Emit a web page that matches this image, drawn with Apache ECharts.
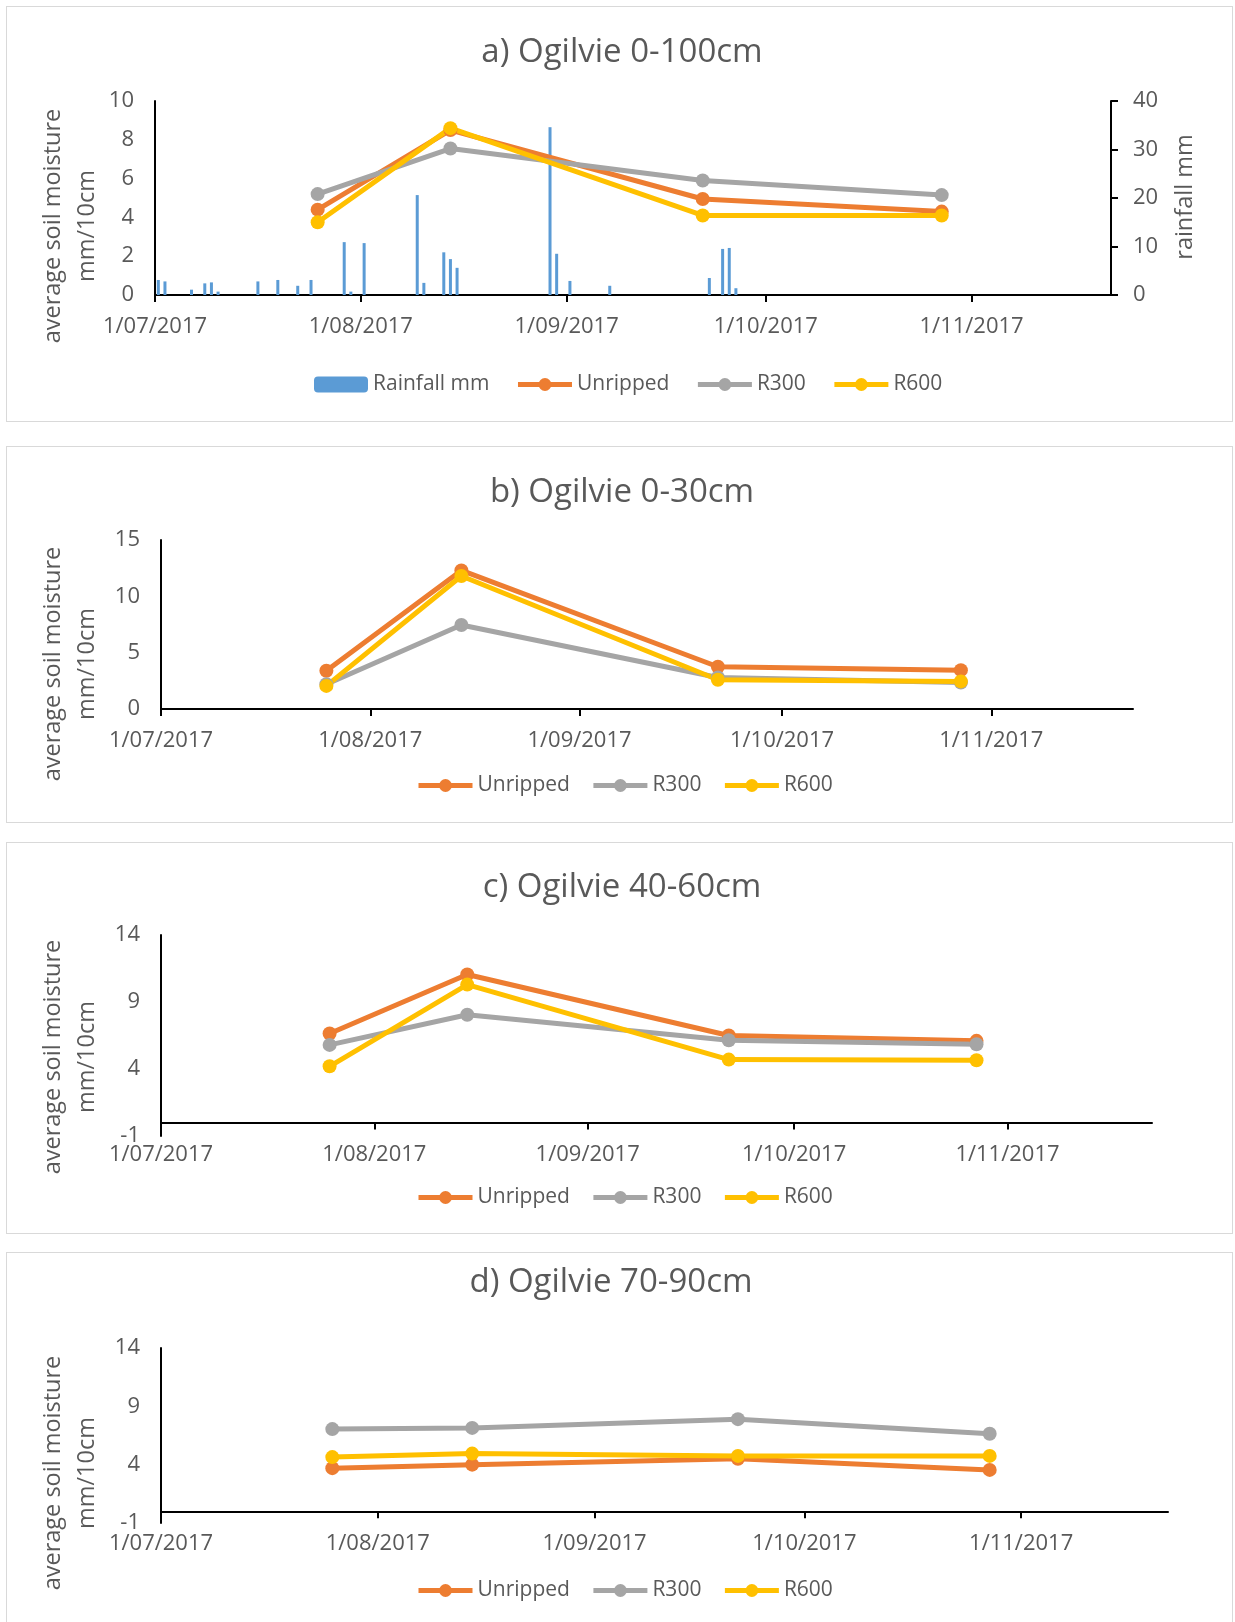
<!DOCTYPE html>
<html>
<head>
<meta charset="utf-8">
<title>Ogilvie soil moisture</title>
<script src="https://cdn.jsdelivr.net/npm/echarts@6/dist/echarts.min.js"></script>
<style>
  html, body { margin: 0; padding: 0; background: #fff; }
  body { width: 1235px; height: 1622px; position: relative; overflow: hidden; }
  .panel { position: absolute; left: 6px; width: 1227px; border: 1px solid #d9d9d9; box-sizing: border-box; }
</style>
</head>
<body>
<div id="chartA" class="panel" style="top:6px;height:416px"></div>
<div id="chartB" class="panel" style="top:446px;height:377px"></div>
<div id="chartC" class="panel" style="top:842px;height:392px"></div>
<div id="chartD" class="panel" style="top:1252px;height:380px"></div>

<script>
// sampling dates (same for every depth)
const sampleDates = ['2017-07-25', '2017-08-14', '2017-09-21', '2017-10-27'];
// x axis month ticks
const tickDates = ['2017-07-01', '2017-08-01', '2017-09-01', '2017-10-01', '2017-11-01'];
const axisStart = '2017-07-01';
const axisEnd = '2017-11-22';

// daily rainfall (mm)
const rainDates = [
  '2017-07-01', '2017-07-02', '2017-07-06', '2017-07-08', '2017-07-09', '2017-07-10',
  '2017-07-16', '2017-07-19', '2017-07-22', '2017-07-24', '2017-07-29', '2017-07-30',
  '2017-08-01', '2017-08-09', '2017-08-10', '2017-08-13', '2017-08-14', '2017-08-15',
  '2017-08-29', '2017-08-30', '2017-09-01', '2017-09-07', '2017-09-22', '2017-09-24',
  '2017-09-25', '2017-09-26'
];
const rainMm = [
  3.1, 2.8, 1.1, 2.4, 2.6, 0.7,
  2.8, 3.1, 1.9, 3.1, 10.9, 0.7,
  10.7, 20.6, 2.5, 8.8, 7.4, 5.6,
  34.6, 8.5, 2.9, 1.9, 3.5, 9.5,
  9.7, 1.4
];

// a) 0-100cm
const unrippedA = [4.4, 8.5, 4.95, 4.3];
const r300A = [5.2, 7.55, 5.9, 5.15];
const r600A = [3.75, 8.6, 4.1, 4.1];
// b) 0-30cm
const unrippedB = [3.4, 12.3, 3.75, 3.45];
const r300B = [2.2, 7.45, 2.8, 2.35];
const r600B = [2.05, 11.8, 2.6, 2.45];
// c) 40-60cm
const unrippedC = [6.65, 11.05, 6.5, 6.1];
const r300C = [5.8, 8.05, 6.15, 5.85];
const r600C = [4.2, 10.3, 4.7, 4.65];
// d) 70-90cm
const unrippedD = [3.7, 4.0, 4.5, 3.55];
const r300D = [7.05, 7.15, 7.9, 6.65];
const r600D = [4.65, 4.95, 4.75, 4.75];

const FONT = '"Open Sans", "Noto Sans", sans-serif';
const TEXT = '#595959';
const COLORS = { Unripped: '#ED7D31', R300: '#A5A5A5', R600: '#FFC000', rain: '#5B9BD5' };

function day(s) {
  const [y, m, d] = s.split('-').map(Number);
  return new Date(y, m - 1, d).getTime();
}
// Excel date axis puts each day in the middle of its slot
function slot(s) {
  return day(s) + 12 * 3600 * 1000;
}
function fmtDate(v) {
  const d = new Date(v);
  const mm = String(d.getMonth() + 1).padStart(2, '0');
  return d.getDate() + '/' + mm + '/' + d.getFullYear();
}

function lineSeries(name, values) {
  return {
    name: name,
    type: 'line',
    data: sampleDates.map((d, i) => [slot(d), values[i]]),
    symbol: 'circle',
    symbolSize: 14,
    lineStyle: { width: 5, color: COLORS[name] },
    itemStyle: { color: COLORS[name] },
    z: 3
  };
}

function buildOption(p) {
  const ticks = tickDates.map(day);
  // x axis sits on zero, labels are laid out from the grid bottom
  const zeroShift = p.yMin < 0 ? -p.yMin / (p.yMax - p.yMin) * p.grid.height : 0;
  const yAxes = [{
    type: 'value',
    min: p.yMin,
    max: p.yMax,
    interval: p.yInterval,
    axisLine: { show: true, lineStyle: { color: '#000', width: 2 } },
    axisTick: { show: false },
    splitLine: { show: false },
    axisLabel: { fontSize: 22, color: TEXT, fontFamily: FONT, margin: 21 }
  }];
  if (p.rain) {
    yAxes.push({
      type: 'value',
      position: 'right',
      min: 0,
      max: 40,
      interval: 10,
      axisLine: { show: true, lineStyle: { color: '#000', width: 2 } },
      axisTick: { show: true, length: 7, lineStyle: { color: '#000', width: 2 } },
      splitLine: { show: false },
      axisLabel: { fontSize: 22, color: TEXT, fontFamily: FONT, margin: 22 }
    });
  }

  const series = [];
  if (p.rain) {
    series.push({
      name: 'Rainfall mm',
      type: 'bar',
      yAxisIndex: 1,
      barWidth: 3,
      data: rainDates.map((d, i) => [slot(d), rainMm[i]]),
      itemStyle: { color: COLORS.rain },
      z: 2
    });
  }
  series.push(lineSeries('Unripped', p.unripped));
  series.push(lineSeries('R300', p.r300));
  series.push(lineSeries('R600', p.r600));

  const graphics = [
    {
      type: 'text', x: p.titleX, y: p.titleY,
      style: { text: p.title, fontSize: 33, fill: TEXT, fontFamily: FONT, align: 'center', verticalAlign: 'middle' }
    },
    {
      type: 'text', x: 63, y: p.nameY, rotation: Math.PI / 2,
      style: {
        text: 'average soil moisture\nmm/10cm', fontSize: 23.5, lineHeight: 34, fill: TEXT,
        fontFamily: FONT, align: 'center', verticalAlign: 'middle'
      }
    }
  ];
  if (p.rain) {
    graphics.push({
      type: 'text', x: 1178, y: 190, rotation: Math.PI / 2,
      style: { text: 'rainfall mm', fontSize: 23.5, fill: TEXT, fontFamily: FONT, align: 'center', verticalAlign: 'middle' }
    });
  }

  return {
    animation: false,
    backgroundColor: '#fff',
    grid: p.grid,
    graphic: graphics,
    legend: {
      left: p.legendLeft,
      top: p.legendTop,
      itemWidth: 54,
      itemHeight: 16,
      itemGap: p.legendGap,
      lineStyle: { width: 5 },
      textStyle: { fontSize: 21, color: TEXT, fontFamily: FONT },
      data: series.map(s => s.name)
    },
    xAxis: {
      // timestamps on a value axis so the month ticks can be placed exactly
      type: 'value',
      min: day(axisStart),
      max: day(axisEnd),
      axisLine: { onZero: true, lineStyle: { color: '#000', width: 2 } },
      axisTick: { show: true, length: 7, lineStyle: { color: '#000', width: 2 }, customValues: ticks },
      axisLabel: {
        customValues: ticks, formatter: fmtDate, fontSize: 22, color: TEXT,
        fontFamily: FONT, margin: 21 - zeroShift, hideOverlap: false
      },
      splitLine: { show: false }
    },
    yAxis: yAxes,
    series: series
  };
}

const panels = [
  {
    el: 'chartA', title: 'a) Ogilvie 0-100cm', titleX: 615, titleY: 46, nameY: 219,
    grid: { left: 148, top: 94, width: 956, height: 194 },
    yMin: 0, yMax: 10, yInterval: 2, rain: true,
    legendLeft: 302, legendTop: 362, legendGap: 26,
    unripped: unrippedA, r300: r300A, r600: r600A
  },
  {
    el: 'chartB', title: 'b) Ogilvie 0-30cm', titleX: 615, titleY: 46, nameY: 217,
    grid: { left: 154, top: 93, width: 972, height: 169 },
    yMin: 0, yMax: 15, yInterval: 5, rain: false,
    legendLeft: 404, legendTop: 323, legendGap: 21,
    unripped: unrippedB, r300: r300B, r600: r600B
  },
  {
    el: 'chartC', title: 'c) Ogilvie 40-60cm', titleX: 615, titleY: 45, nameY: 214,
    grid: { left: 154, top: 92, width: 991, height: 201 },
    yMin: -1, yMax: 14, yInterval: 5, rain: false,
    legendLeft: 404, legendTop: 339, legendGap: 21,
    unripped: unrippedC, r300: r300C, r600: r600C
  },
  {
    el: 'chartD', title: 'd) Ogilvie 70-90cm', titleX: 604, titleY: 30, nameY: 220,
    grid: { left: 154, top: 95, width: 1007, height: 175 },
    yMin: -1, yMax: 14, yInterval: 5, rain: false,
    legendLeft: 404, legendTop: 322, legendGap: 21,
    unripped: unrippedD, r300: r300D, r600: r600D
  }
];

const charts = panels.map(p => {
  const chart = echarts.init(document.getElementById(p.el));
  chart.setOption(buildOption(p));
  return chart;
});

window.addEventListener('resize', () => charts.forEach(c => c.resize()));
</script>
</body>
</html>
